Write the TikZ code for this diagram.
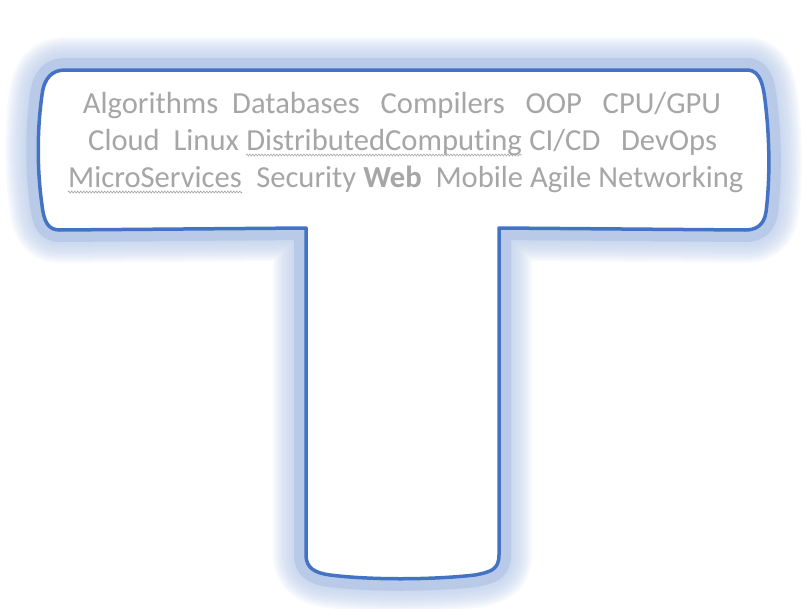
\documentclass[tikz,border=0pt]{standalone}
\usepackage{fontspec}
\setmainfont[Ligatures=NoCommon]{Carlito}
\usepackage{tikz}
\usetikzlibrary{positioning,decorations.pathmorphing}
\definecolor{tblue}{HTML}{4472C4}
\definecolor{tglow}{HTML}{B4C7E7}
\definecolor{skillgray}{HTML}{A6A6A6}
\newcommand{\tshape}{(65,70) -- (748,70)
  .. controls (760,71) and (763,84) .. (765,100)
  .. controls (770,140) and (770,180) .. (766,212)
  .. controls (764,226) and (755,230) .. (745,230)
  -- (499,228) -- (499,555)
  .. controls (499,570) and (490,572) .. (475,575)
  .. controls (430,580) and (370,580) .. (330,575)
  .. controls (315,573) and (306,568) .. (306,555)
  -- (306,228) -- (60,230)
  .. controls (48,230) and (44,222) .. (42,205)
  .. controls (37,170) and (37,130) .. (42,95)
  .. controls (44,78) and (52,70) .. (65,70) -- cycle}

\begin{document}
\begin{tikzpicture}[
    x=1pt, y=-1pt,
    node distance=7pt,
    glow/.style={draw=tglow, line join=round},
    outline/.style={draw=tblue, line width=3.5pt, line join=round, fill=white},
    skill/.style={text=skillgray, inner sep=0pt,
                  font=\fontsize{30.6}{37}\selectfont},
    squiggle/.style={draw=skillgray, line width=0.6pt,
                     decorate, decoration={zigzag, amplitude=1pt, segment length=3pt}},
]
\useasboundingbox (0,0) rectangle (806,608);

% soft glow around the T
\foreach \w in {66,62,...,26}
  \draw[glow, line width=\w pt, opacity=0.1] \tshape;
\draw[glow, line width=24pt, opacity=0.85] \tshape;

% T outline
\path[outline] \tshape;

% skills
\node[skill, anchor=base] (row1) at (402,113) {Algorithms~ Databases~~ Compilers~~ OOP~~ CPU/GPU};

\node[skill, anchor=base west] (cloud) at (88,150) {Cloud~ Linux};
\node[skill, base right=of cloud] (dist) {DistributedComputing};
\node[skill, base right=of dist] (devops) {CI/CD~~ DevOps};

\node[skill, anchor=base west] (micro) at (68,187) {MicroServices};
\node[skill, base right=14pt of micro] (web) {Security \textbf{Web}~ Mobile Agile Networking};

% spell-check squiggles
\draw[squiggle] ([yshift=-5pt]dist.base west) -- ([yshift=-5pt]dist.base east);
\draw[squiggle] ([yshift=-5pt]micro.base west) -- ([yshift=-5pt]micro.base east);

\end{tikzpicture}
\end{document}
